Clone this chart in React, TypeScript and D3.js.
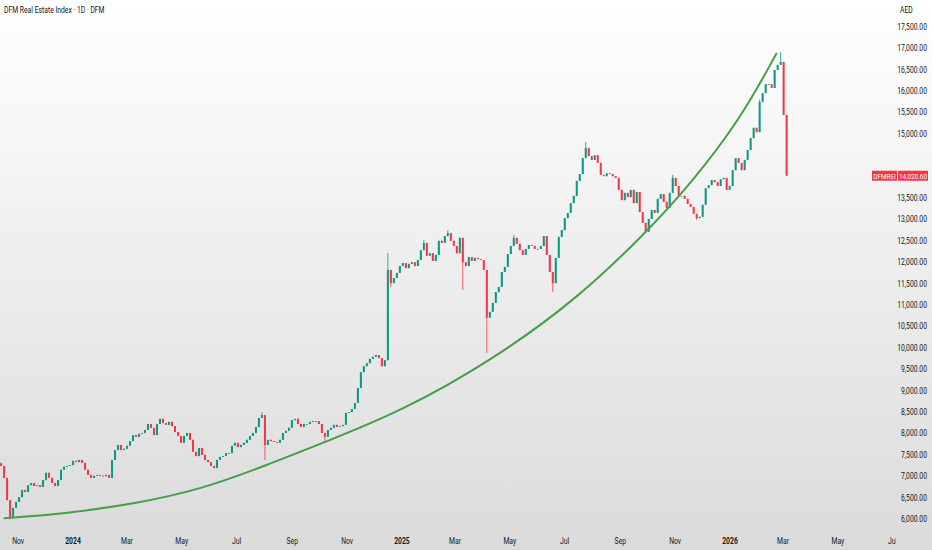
import { useMemo } from 'react';
import * as d3 from 'd3';

const W = 932;
const H = 550;
const FONT = "Roboto, 'Liberation Sans', sans-serif";

// daily bars resampled, close prices (AED)
const closes = [
  7240, 6960, 6440, 6020, 6260, 6400, 6510, 6680, 6630, 6790,
  6840, 6770, 6790, 6750, 6910, 7080, 6960, 6840, 6770, 6910,
  7150, 7220, 7240, 7260, 7360, 7330, 7380, 7310, 7150, 7030,
  6960, 7010, 7030, 7010, 7000, 7030, 6960, 7380, 7610, 7730,
  7610, 7640, 7710, 7820, 7960, 7920, 7990, 8010, 8080, 8220,
  8130, 7960, 8220, 8340, 8240, 8200, 8270, 8170, 8030, 7940,
  7780, 7940, 8010, 7850, 7570, 7470, 7660, 7500, 7380, 7330,
  7240, 7190, 7380, 7450, 7470, 7540, 7540, 7710, 7780, 7680,
  7730, 7780, 7850, 7940, 8010, 8150, 8360, 8430, 7730, 7850,
  7820, 7800, 7780, 7850, 8010, 8060, 8130, 8310, 8340, 8220,
  8150, 8220, 8220, 8270, 8290, 8290, 8220, 8010, 7920, 8080,
  8130, 8200, 8150, 8170, 8200, 8480, 8500, 8570, 8710, 9060,
  9430, 9570, 9640, 9740, 9790, 9830, 9760, 9570, 9710, 11820,
  11510, 11630, 11750, 11910, 11980, 11860, 11960, 12000, 11910, 12050,
  12280, 12450, 12150, 12210, 12030, 12170, 12500, 12450, 12610, 12680,
  12500, 12380, 12210, 12570, 12000, 11910, 12120, 12030, 12100, 12070,
  12050, 11820, 10700, 10840, 11050, 11300, 11420, 11770, 11890, 12190,
  12380, 12570, 12430, 12280, 12170, 12310, 12400, 12380, 12310, 12310,
  12380, 12610, 12170, 11770, 11510, 12100, 12590, 12750, 13030, 13150,
  13380, 13550, 13900, 14060, 14430, 14670, 14480, 14390, 14500, 14320,
  14040, 14010, 14080, 14060, 14010, 13970, 13690, 13450, 13620, 13520,
  13690, 13380, 13640, 13170, 12920, 12710, 13010, 13220, 13150, 13480,
  13590, 13410, 13270, 13620, 13970, 13780, 13550, 13550, 13480, 13360,
  13290, 13130, 13030, 13060, 13340, 13730, 13800, 13920, 13870, 13780,
  13940, 13970, 13690, 13780, 14150, 14430, 14320, 14150, 14390, 14620,
  14900, 15140, 15040, 15740, 15950, 16160, 16160, 16070, 16490, 16610,
  16680, 15440, 14020.6,
];
const firstOpen = 7300;

// notable wick extremes: [bar index, price]
const wickHighs: [number, number][] = [
  [0, 7320], [87, 8500], [129, 12215], [141, 12520], [149, 12740], [171, 12640],
  [195, 14810], [224, 14040], [253, 15800], [260, 16910],
];
const wickLows: [number, number][] = [
  [3, 5990], [88, 7380], [108, 7820], [130, 11420], [154, 11350], [162, 9880],
  [184, 11300], [215, 12680], [232, 12990],
];

// drawn growth curve: anchor points
const curveDates = [
  '2023-10-16', '2023-12-25', '2024-03-08', '2024-05-21', '2024-08-04', '2024-10-05',
  '2024-12-30', '2025-04-12', '2025-07-16', '2025-09-29', '2025-11-17', '2026-01-12',
  '2026-02-22',
];
const curvePrices = [
  6016, 6130, 6350, 6680, 7260, 7780, 8500, 9715, 11160, 12680, 13800, 15320, 16890,
];

const yTicks = [
  6000, 6500, 7000, 7500, 8000, 8500, 9000, 9500, 10000, 10500, 11000, 11500,
  12000, 12500, 13000, 13500, 15000, 15500, 16000, 16500, 17000, 17500,
];
const xTickDates = [
  '2023-11-01', '2024-01-01', '2024-03-01', '2024-05-01', '2024-07-01', '2024-09-01',
  '2024-11-01', '2025-01-01', '2025-03-01', '2025-05-01', '2025-07-01', '2025-09-01',
  '2025-11-01', '2026-01-01', '2026-03-01', '2026-05-01', '2026-07-01',
];
const xTickLabels = [
  'Nov', '2024', 'Mar', 'May', 'Jul', 'Sep', 'Nov', '2025', 'Mar', 'May', 'Jul', 'Sep',
  'Nov', '2026', 'Mar', 'May', 'Jul',
];

const UP = '#089981';
const DOWN = '#f23645';
const INK = '#131722';
const PANE_RIGHT = 896;
const SQUEEZE = 0.8; // screenshot text is horizontally condensed

const parse = (s: string) => new Date(s + 'T00:00:00Z');

function Label(props: {
  x: number;
  y: number;
  size: number;
  anchor?: 'start' | 'middle' | 'end';
  fill?: string;
  weight?: number;
  children: React.ReactNode;
}) {
  const { x, y, size, anchor = 'start', fill = INK, weight = 400, children } = props;
  return (
    <text
      transform={`translate(${x},${y}) scale(${SQUEEZE},1)`}
      textAnchor={anchor}
      fontSize={size}
      fontWeight={weight}
      fill={fill}
    >
      {children}
    </text>
  );
}

export default function App() {
  const x = d3.scaleUtc([parse('2024-01-01'), parse('2026-01-01')], [73, 730]);
  const y = d3.scaleLinear([6000, 17500], [519, 26.8]);

  const bars = useMemo(() => {
    const t0 = parse('2023-10-13').getTime();
    const t1 = parse('2026-03-05').getTime();
    const step = (t1 - t0) / (closes.length - 1);
    const hi = new Map(wickHighs);
    const lo = new Map(wickLows);
    return closes.map((c, i) => {
      const o = i === 0 ? firstOpen : closes[i - 1];
      return {
        t: new Date(t0 + i * step),
        o,
        c,
        h: hi.get(i) ?? Math.max(o, c),
        l: lo.get(i) ?? Math.min(o, c),
      };
    });
  }, []);

  // smooth spline through the read-off anchors
  const curve = d3
    .line<number>()
    .x((_, i) => x(parse(curveDates[i])))
    .y(p => y(p))
    .curve(d3.curveBasis)(curvePrices) ?? '';

  const last = closes[closes.length - 1];
  const lastY = y(last);
  const fmt = d3.format(',.2f');

  return (
    <svg
      width={W}
      height={H}
      style={{ position: 'fixed', left: 0, top: 0, display: 'block' }}
      fontFamily={FONT}
    >
      <defs>
        <linearGradient id="bg" x1="0" y1="0" x2="0" y2="1">
          <stop offset="0%" stopColor="#ffffff" />
          <stop offset="100%" stopColor="#dbdbdb" />
        </linearGradient>
        <clipPath id="pane">
          <rect x={0} y={0} width={PANE_RIGHT} height={H} />
        </clipPath>
      </defs>
      <rect width={W} height={H} fill="url(#bg)" />

      <g clipPath="url(#pane)">
        {/* candles */}
        {bars.map((b, i) => {
          const cx = x(b.t);
          const col = b.c >= b.o ? UP : DOWN;
          const top = y(Math.max(b.o, b.c));
          const bot = y(Math.min(b.o, b.c));
          return (
            <g key={i}>
              <line x1={cx} x2={cx} y1={y(b.h)} y2={y(b.l)} stroke={col} strokeWidth={0.8} />
              <rect x={cx - 1} y={top} width={2} height={Math.max(0.8, bot - top)} fill={col} />
            </g>
          );
        })}

        <path d={curve} fill="none" stroke="#43a047" strokeWidth={2} />

        {/* time axis */}
        {xTickDates.map((d, i) => (
          <Label
            key={d}
            x={x(parse(d))}
            y={544}
            size={8.5}
            anchor="middle"
            weight={/^\d{4}$/.test(xTickLabels[i]) ? 700 : 400}
          >
            {xTickLabels[i]}
          </Label>
        ))}
      </g>

      {/* price axis */}
      <Label x={900} y={13} size={8.5}>AED</Label>
      {yTicks.map(v => (
        <Label key={v} x={927} y={y(v) + 3} size={8.5} anchor="end">
          {fmt(v)}
        </Label>
      ))}

      {/* last price tag */}
      <rect x={872} y={lastY - 5} width={25} height={10} fill={DOWN} />
      <Label x={884.5} y={lastY + 3} size={8} anchor="middle" fill="#fff">DFMREI</Label>
      <rect x={898} y={lastY - 5} width={30} height={10} fill={DOWN} />
      <Label x={913} y={lastY + 3} size={8} anchor="middle" fill="#fff">{fmt(last)}</Label>

      <Label x={4} y={13} size={8.5}>DFM Real Estate Index · 1D · DFM</Label>
    </svg>
  );
}
